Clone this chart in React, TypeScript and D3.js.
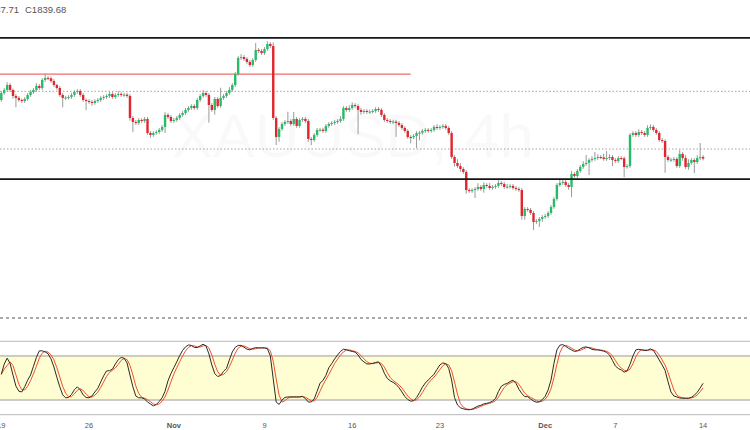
import React from "react";
import * as d3 from "d3";

const W = 750;
const H = 430;

// ---- data (XAUUSD 4h) ----
const firstOpen = 1902.7;
const closes: number[] = [
  1910.2, 1913.5, 1918.8, 1913.5, 1907.0, 1904.9, 1902.7, 1901.6, 1903.8, 1908.1, 1911.3, 1913.5,
  1917.8, 1915.6, 1924.2, 1926.4, 1926.0, 1923.1, 1918.8, 1915.6, 1908.1, 1904.9, 1905.3, 1905.9,
  1908.1, 1911.3, 1912.4, 1908.1, 1902.7, 1901.6, 1900.6, 1899.5, 1901.6, 1902.7, 1904.9, 1905.9,
  1907.0, 1909.2, 1905.9, 1908.1, 1909.2, 1908.1, 1908.4, 1907.0, 1883.4, 1879.1, 1878.0, 1881.2,
  1880.1, 1882.3, 1867.2, 1865.1, 1867.2, 1868.3, 1870.5, 1873.7, 1886.6, 1884.4, 1880.1, 1881.2,
  1883.4, 1886.6, 1888.7, 1892.0, 1894.1, 1896.2, 1894.1, 1902.7, 1907.0, 1910.2, 1908.1, 1897.3,
  1892.0, 1903.8, 1896.2, 1904.9, 1907.0, 1910.2, 1913.5, 1918.8, 1930.7, 1947.9, 1948.9, 1946.8,
  1943.6, 1940.3, 1945.7, 1956.5, 1955.4, 1953.2, 1957.5, 1962.9, 1960.7, 1883.4, 1862.9, 1871.5,
  1876.9, 1879.1, 1880.1, 1876.9, 1882.3, 1874.8, 1881.2, 1882.3, 1880.1, 1860.8, 1859.7, 1865.1,
  1870.5, 1870.8, 1869.4, 1874.8, 1876.9, 1878.0, 1879.1, 1880.1, 1882.3, 1894.1, 1892.0, 1894.1,
  1897.3, 1896.2, 1892.0, 1889.8, 1890.9, 1889.8, 1890.2, 1890.9, 1893.0, 1892.0, 1886.6, 1881.2,
  1880.1, 1879.1, 1879.4, 1878.0, 1875.8, 1872.6, 1869.4, 1862.9, 1862.6, 1864.0, 1867.2, 1867.5,
  1869.4, 1870.5, 1869.4, 1870.5, 1873.7, 1872.6, 1873.7, 1874.8, 1872.6, 1867.2, 1841.4, 1835.0,
  1831.7, 1828.5, 1825.3, 1805.9, 1804.9, 1805.9, 1807.0, 1809.2, 1807.0, 1811.3, 1810.3, 1808.1,
  1809.2, 1810.3, 1813.5, 1812.4, 1809.2, 1809.5, 1810.3, 1808.1, 1807.0, 1805.9, 1778.0, 1785.5,
  1784.5, 1781.2, 1771.5, 1772.6, 1774.8, 1776.9, 1778.0, 1781.2, 1787.7, 1796.3, 1811.3, 1813.5,
  1814.6, 1811.3, 1809.2, 1823.2, 1821.0, 1826.4, 1830.7, 1833.9, 1835.0, 1838.2, 1839.3, 1840.3,
  1841.4, 1841.0, 1839.3, 1840.3, 1841.4, 1838.2, 1837.1, 1840.3, 1840.0, 1830.7, 1831.7, 1865.1,
  1867.2, 1865.1, 1868.3, 1867.2, 1865.1, 1872.6, 1873.7, 1870.5, 1867.2, 1859.7, 1858.6, 1841.4,
  1838.2, 1838.5, 1839.3, 1831.7, 1844.7, 1840.3, 1830.7, 1835.0, 1838.2, 1836.0, 1840.3, 1841.4,
  1839.68,
];
const upperWicks: number[] = [
  2, 2, 3, 2, 1.5, 2, 2, 1.5, 2, 2, 2, 2,
  3, 2, 2, 5, 2, 2, 2, 1.5, 2, 2, 2, 2,
  2, 2, 2, 2, 2, 1.5, 2, 2, 2, 2, 2, 2,
  2, 2, 2, 2, 3, 2, 2, 2, 2, 2, 2, 2,
  2, 2, 2, 2, 2, 2, 2, 2, 3, 2, 2, 2,
  2, 2, 2, 2, 2, 2, 2, 2, 2, 3, 2, 2,
  2, 2, 2, 11, 2, 2, 3, 2, 2, 2, 3, 2,
  2, 2, 2, 7.5, 2, 2, 2, 3, 2, 4, 2, 2,
  2, 2, 10, 2, 7.5, 2, 2, 2, 2, 2, 2, 2,
  2, 2, 2, 2, 2, 2, 2, 2, 3, 2, 2, 3,
  3, 2, 2, 2, 2, 2, 2, 2, 2, 2, 2, 2,
  2, 2, 2, 2, 2, 2, 2, 2, 2, 2, 2, 2,
  2, 2, 2, 2, 2, 3, 2, 2, 2, 2, 2, 2,
  4, 3, 2, 2, 2, 2, 2, 4, 2, 3, 2, 3,
  2, 2, 3, 2, 2, 3, 2, 2, 2, 2, 2, 2,
  2, 2, 2, 2, 2, 2, 2, 2, 2, 2, 2, 5,
  3, 2, 2, 3, 2, 2, 2, 3, 8.5, 2, 3, 6.5,
  3, 2, 4, 7.5, 3, 2, 2, 2, 2, 2, 2, 2,
  2, 2, 3, 2, 2, 3, 3, 2, 2, 2, 2, 2,
  2, 2, 2, 2, 4.3, 2, 3, 4, 2, 2, 3, 15,
  2,
];
const lowerWicks: number[] = [
  2, 2, 2, 2, 3, 10, 2, 2, 2, 2, 2, 2,
  2, 2, 2, 2, 2, 2, 2, 2, 2, 10, 2, 2,
  2, 2, 2, 2, 2, 10, 2, 3, 2, 2, 2, 2,
  2, 2, 2, 2, 2, 2, 2, 2, 3, 11, 2, 2,
  2, 2, 2, 3, 2, 2, 2, 2, 6.5, 2, 2, 2,
  2, 2, 2, 2, 2, 2, 2, 2, 2, 2, 2, 19,
  2, 5, 2, 2, 2, 2, 2, 2, 2, 2, 2, 2,
  2, 2, 2, 2, 2, 2, 2, 2, 2, 2, 8.6, 5,
  2, 2, 2, 2, 2, 2, 2, 2, 2, 3, 5.5, 2,
  2, 2, 2, 2, 2, 2, 2, 2, 2, 2, 2, 2,
  2, 2, 26, 3, 2, 2, 2, 2, 2, 2, 2, 2,
  2, 2, 2, 15, 2, 2, 2, 2, 6.5, 2, 13, 8,
  2, 2, 2, 2, 2, 2, 2, 2, 2, 2, 2, 4,
  2, 3, 2, 4, 2, 2, 8.6, 2, 2, 4, 2, 2,
  2, 2, 2, 2, 2, 2, 2, 2, 2, 2, 4, 4,
  2, 2, 8.6, 2, 6.5, 3, 2, 2, 2, 2, 2, 2,
  2, 2, 3, 11, 2, 2, 2, 2, 2, 13, 2, 2,
  2, 2, 2, 2, 2, 6.5, 2, 2, 2, 11, 2, 2,
  2, 2, 2, 2, 2, 2, 2, 2, 2, 2, 2, 17,
  2, 2, 2, 2, 2, 3, 2, 3, 2, 12, 2, 2,
  2,
];
// Stochastic %K
const stochK: number[] = [
  55, 69, 77, 70, 54, 39, 32, 31, 38, 47, 54, 66,
  78, 87, 87, 85.5, 83, 76, 65, 51, 38, 27, 23, 23.5,
  27.5, 34, 38, 34, 27, 23.5, 23, 25.5, 31, 36, 44.6, 53,
  59.6, 60, 62, 69, 75, 78, 77, 70.5, 54, 38, 25.5, 23,
  23, 21.5, 17.3, 14.6, 12, 14, 18, 23, 32, 46, 56, 64,
  72, 80.5, 87.6, 92.4, 95, 94.4, 91.7, 91.4, 93.7, 96, 93.7, 82.8,
  67.8, 56, 52, 53.5, 59, 63, 74.6, 85.5, 91.7, 94.4, 94.4, 92,
  89.3, 88.3, 90.2, 91.3, 91, 91, 91, 90, 80, 48.7, 17.3, 14,
  20, 23.5, 24.2, 24.2, 24.2, 24.2, 24.2, 25, 22, 17.3, 17.3, 21.4,
  32, 43, 46.7, 53.5, 64, 69.6, 76, 81.4, 86.2, 89.2, 88.5, 87.2,
  86.2, 85.3, 81.4, 75.3, 72, 69.2, 69.2, 70, 71.2, 72, 66, 56.5,
  49.4, 46.2, 44, 41.3, 36.8, 31, 24.8, 20.7, 18.4, 19, 23.2, 30,
  37.5, 43.2, 47.3, 51.2, 55.3, 61.8, 67.8, 70.5, 69.6, 63.2, 47.3, 23.3,
  13.2, 9.5, 8, 7, 6.7, 7.6, 9.7, 11.7, 12.8, 14.7, 15.5, 16.5,
  18.4, 22, 31.6, 38.7, 41.3, 42.6, 45.2, 47, 42.8, 34.7, 28.8, 24.6,
  24.6, 21.4, 18.7, 16.9, 17.6, 20.5, 25.1, 33.7, 47.3, 70, 88.3, 94.7,
  95.5, 93.2, 90.4, 88.3, 86.2, 86.9, 89.6, 91.7, 92.4, 91.1, 89.1, 88.3,
  88.3, 87.6, 86.6, 84.9, 81.4, 74, 66.4, 63, 61, 58, 59.6, 68.5,
  80, 88.3, 89, 88.3, 87.4, 87.8, 89.6, 87.6, 81.4, 74.6, 67.8, 60.3,
  45, 31, 25.5, 24.2, 22.8, 22.4, 22.4, 22.4, 23.7, 26.5, 30.6, 36.4,
  42.8,
];
const stochDPeriod = 3;

const tickIndex = [0, 30, 59, 90, 120, 150, 186, 210, 240];
const tickLabels = ["19", "26", "Nov", "9", "16", "23", "Dec", "7", "14"];
const boldLabels = ["Nov", "Dec"];

const resistanceLevel = 1969.4;
const supportLevel = 1817.7;
const redLevel = 1930.6;
const redLevelEndIndex = 140;
const dottedLevels = [1912, 1850];
const stochBand = [80, 20];
const stochBounds = [100, 0];
const headerPrev = "O1840.10 H1841.95 L1837.71";
const headerClose = "C1839.68";
const watermarkTitle = "XAUUSD, 4h";
const watermarkSub = "Gold Spot / U.S. Dollar";

const UP = "#27bb68";
const DOWN = "#e2262d";
const WICK = "#9a9a9a";

export default function App() {
  const n = closes.length;
  const x = d3.scaleLinear().domain([0, n - 1]).range([1.3, 703.1]);
  const y = d3.scaleLinear().domain([1850, 1950]).range([149, 56]);
  const ys = d3.scaleLinear().domain([0, 100]).range([414.7, 341.3]);

  const opens = closes.map((c, i) => (i === 0 ? firstOpen : closes[i - 1]));
  const highs = closes.map((c, i) => Math.max(c, opens[i]) + upperWicks[i]);
  const lows = closes.map((c, i) => Math.min(c, opens[i]) - lowerWicks[i]);

  const stochD = stochK.map((_, i) => {
    const s = stochK.slice(Math.max(0, i - stochDPeriod + 1), i + 1);
    return d3.mean(s) as number;
  });

  const line = d3
    .line<number>()
    .x((_, i) => x(i))
    .y((d) => ys(d))
    .curve(d3.curveLinear);

  const bodyW = 2.4;
  const font = "'Liberation Sans', Arial, sans-serif";

  return (
    <div style={{ position: "absolute", left: 0, top: 0 }}>
      <svg width={W} height={H} style={{ display: "block", background: "#fff" }}>
        {/* watermark */}
        <text x={172} y={157} fontFamily={font} fontSize={62} fill="rgba(0,0,0,0.022)">
          {watermarkTitle}
        </text>
        <text x={177} y={222} fontFamily={font} fontSize={40} fill="rgba(0,0,0,0.022)">
          {watermarkSub}
        </text>

        {/* header */}
        <text x={19} y={13} textAnchor="end" fontFamily={font} fontSize={9.5} fill="#555">
          {headerPrev}
        </text>
        <text x={25} y={13} fontFamily={font} fontSize={9.5} fill="#555">
          {headerClose}
        </text>

        {/* dotted levels */}
        {dottedLevels.map((lv, i) => (
          <line key={"dl" + i} x1={0} x2={W} y1={y(lv)} y2={y(lv)} stroke="#8a8a8a" strokeWidth={0.8} strokeDasharray="1.5,2" />
        ))}

        {/* red level */}
        <line x1={0} x2={x(redLevelEndIndex)} y1={y(redLevel)} y2={y(redLevel)} stroke="#f26b6b" strokeWidth={1.2} />

        {/* candles */}
        {closes.map((c, i) => {
          const o = opens[i];
          const up = c >= o;
          const top = y(Math.max(o, c));
          const bot = y(Math.min(o, c));
          const cx = x(i);
          return (
            <g key={"c" + i}>
              <line x1={cx} x2={cx} y1={y(highs[i])} y2={y(lows[i])} stroke={WICK} strokeWidth={1} />
              <rect x={cx - bodyW / 2} y={top} width={bodyW} height={Math.max(1, bot - top)} fill={up ? UP : DOWN} />
            </g>
          );
        })}

        {/* horizontal black levels */}
        <line x1={0} x2={W} y1={y(resistanceLevel)} y2={y(resistanceLevel)} stroke="#151515" strokeWidth={1.7} />
        <line x1={0} x2={W} y1={y(supportLevel)} y2={y(supportLevel)} stroke="#151515" strokeWidth={1.7} />

        {/* pane separator dashed */}
        <line x1={0} x2={W} y1={318} y2={318} stroke="#555" strokeWidth={1} strokeDasharray="3,3" />

        {/* stochastic pane */}
        <rect x={0} y={ys(stochBand[0])} width={W} height={ys(stochBand[1]) - ys(stochBand[0])} fill="#fffdd2" />
        {stochBounds.map((b, i) => (
          <line key={"sb" + i} x1={0} x2={W} y1={ys(b)} y2={ys(b)} stroke="#b8b8b8" strokeWidth={1} />
        ))}
        {stochBand.map((b, i) => (
          <line key={"sband" + i} x1={0} x2={W} y1={ys(b)} y2={ys(b)} stroke="#9a9a9a" strokeWidth={1} />
        ))}
        <path d={line(stochD) || ""} fill="none" stroke="#f2502d" strokeWidth={1} />
        <path d={line(stochK) || ""} fill="none" stroke="#2a2a2a" strokeWidth={1} />

        {/* x axis labels */}
        {tickIndex.map((ti, i) => (
          <text
            key={"t" + i}
            x={x(ti)}
            y={427.5}
            textAnchor="middle"
            fontFamily={font}
            fontSize={7.5}
            fontWeight={boldLabels.includes(tickLabels[i]) ? "bold" : "normal"}
            fill="#555"
          >
            {tickLabels[i]}
          </text>
        ))}
      </svg>
    </div>
  );
}
